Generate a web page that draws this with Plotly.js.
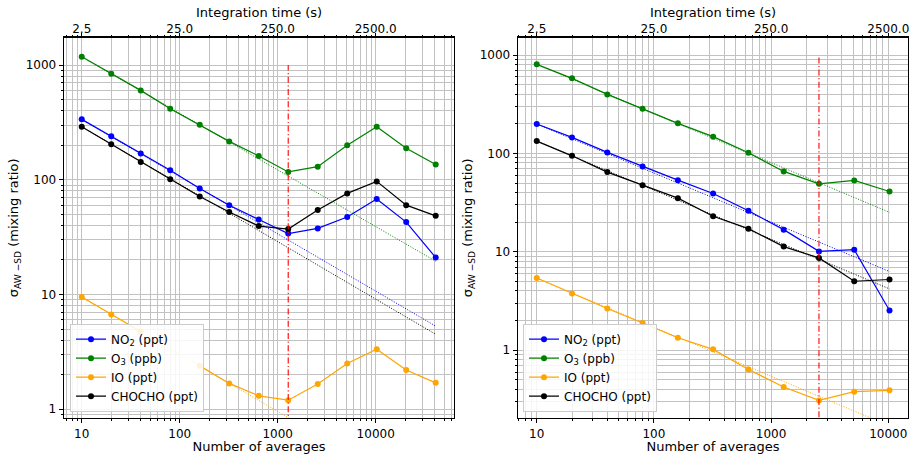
<!DOCTYPE html>
<html>
<head>
<meta charset="utf-8">
<script src="https://cdn.plot.ly/plotly-3.0.1.min.js"></script>
<style>html,body{margin:0;padding:0;background:#fff;}#chart{width:912px;height:454px;}</style>
</head>
<body>
<div id="chart"></div>
<script>
// ---- data ----
const averagesLeft = [10, 20, 40, 80, 160, 320, 640, 1280, 2560, 5120, 10240, 20480, 40960];
const averagesRight = [10, 20, 40, 80, 160, 320, 640, 1280, 2560, 5120, 10240];

const no2Left = [336, 239, 169, 121, 84, 60, 45, 34, 37.7, 47.3, 68, 42.8, 21];
const o3Left = [1181, 839, 601, 416, 302, 216, 161, 117, 130, 200, 290, 188, 136];
const ioLeft = [9.5, 6.7, 4.76, null, 2.39, 1.68, 1.31, 1.2, 1.66, 2.51, 3.34, 2.2, 1.7];
const chochoLeft = [290, 204, 143, 101, 71.6, 52.3, 39.5, 37.2, 54.5, 76.1, 96.8, 60.1, 48.5];

const no2Right = [199, 145.5, 102.4, 73.8, 53.5, 39.2, 26.1, 16.8, 10.1, 10.5, 2.53];
const o3Right = [804, 579, 398, 284, 202, 148, 101.4, 65.6, 49.1, 53.1, 41.0];
const ioRight = [5.42, 3.77, 2.65, 1.89, 1.34, 1.02, 0.638, 0.422, 0.309, 0.379, 0.391];
const chochoRight = [133.4, 94.5, 64.6, 47.6, 35.1, 23.0, 17.2, 11.3, 8.67, 5.02, 5.23];

// dotted white-noise reference lines (end points)
const fitXLeft = [10, 40960];
const fitNo2Left = [336, 5.3];
const fitO3Left = [1181, 19.5];
const fitIoLeft = [9.5, 0.15];
const fitChochoLeft = [290, 4.5];

const fitXRight = [10, 10240];
const fitNo2Right = [199, 6.3];
const fitO3Right = [804, 25.2];
const fitIoRight = [5.42, 0.17];
const fitChochoRight = [133.4, 4.2];

// optimum averaging (red dash-dot)
const cutoffXLeft = [1280, 1280];
const cutoffXRight = [2560, 2560];
const cutoffY = [0.05, 1000];

const seriesNames = ['NO<sub>2</sub> (ppt)', 'O<sub>3</sub> (ppb)', 'IO (ppt)', 'CHOCHO (ppt)'];
const bottomTickVals = [10, 100, 1000, 10000];
const bottomTickText = ['10', '100', '1000', '10000'];
const topTickText = ['2.5', '25.0', '250.0', '2500.0'];
const yTickVals = [1, 10, 100, 1000];
const yTickText = ['1', '10', '100', '1000'];

// ---- styling ----
const colors = ['#0000ff', '#008000', '#ffa500', '#000000'];
const FONT = 'DejaVu Sans, sans-serif';
const GRID = '#c2c2c2';

const traces = [];
function addPanel(xs, ys, fitX, fits, xa, ya, legendId) {
  ys.forEach((y, i) => {
    traces.push({
      x: xs, y: y, xaxis: xa, yaxis: ya, type: 'scatter', mode: 'lines+markers',
      name: seriesNames[i], legend: legendId, connectgaps: false,
      line: {color: colors[i], width: 1.2},
      marker: {color: colors[i], size: 6}
    });
  });
  fits.forEach((y, i) => {
    traces.push({
      x: fitX, y: y, xaxis: xa, yaxis: ya, type: 'scatter', mode: 'lines',
      showlegend: false, hoverinfo: 'skip',
      line: {color: colors[i], width: 1, dash: '1px,1.6px'}
    });
  });
}
addPanel(averagesLeft, [no2Left, o3Left, ioLeft, chochoLeft], fitXLeft,
  [fitNo2Left, fitO3Left, fitIoLeft, fitChochoLeft], 'x', 'y', 'legend');
addPanel(averagesRight, [no2Right, o3Right, ioRight, chochoRight], fitXRight,
  [fitNo2Right, fitO3Right, fitIoRight, fitChochoRight], 'x2', 'y2', 'legend2');

traces.push({x: cutoffXLeft, y: cutoffY, xaxis: 'x3', yaxis: 'y', mode: 'lines', showlegend: false,
  line: {color: '#ff0000', width: 1.1, dash: '6px,2.5px,1.2px,2.5px'}});
traces.push({x: cutoffXRight, y: cutoffY, xaxis: 'x4', yaxis: 'y2', mode: 'lines', showlegend: false,
  line: {color: '#ff0000', width: 1.1, dash: '6px,2.5px,1.2px,2.5px'}});

const yTop = 1 - 37.7 / 454, yBot = 1 - 418 / 454;
const domL = [64 / 912, 454 / 912], domR = [518 / 912, 908 / 912];
const rangeXL = [0.819, 4.799], rangeXR = [0.840, 4.168];

function bottomAxis(domain, range, anchor) {
  return {
    type: 'log', domain: domain, range: range, anchor: anchor, automargin: false,
    tickmode: 'array', tickvals: bottomTickVals, ticktext: bottomTickText,
    ticks: 'outside', ticklen: 4, tickwidth: 1, tickcolor: '#000',
    showline: true, linecolor: '#000', linewidth: 1.4, mirror: true,
    showgrid: true, gridcolor: GRID, gridwidth: 1, zeroline: false,
    tickfont: {family: FONT, size: 12, color: '#000'},
    minor: {dtick: 'D1', ticks: 'outside', ticklen: 2, tickcolor: '#000', showgrid: true, gridcolor: GRID, gridwidth: 1},
    title: {text: 'Number of averages', font: {family: FONT, size: 13, color: '#000'}, standoff: 4}
  };
}
function topAxis(range, overlay, anchor) {
  return {
    type: 'log', overlaying: overlay, side: 'top', anchor: anchor, range: range, automargin: false,
    tickmode: 'array', tickvals: bottomTickVals, ticktext: topTickText,
    ticks: 'outside', ticklen: 4, tickwidth: 1, tickcolor: '#000',
    ticklabelstandoff: -5,
    showgrid: false, zeroline: false, showline: false,
    tickfont: {family: FONT, size: 12, color: '#000'},
    minor: {dtick: 'D1', ticks: 'outside', ticklen: 2, tickcolor: '#000', showgrid: false}
  };
}
function yAxis(range, anchor) {
  return {
    type: 'log', domain: [yBot, yTop], range: range, anchor: anchor, automargin: false,
    tickmode: 'array', tickvals: yTickVals, ticktext: yTickText,
    ticks: 'outside', ticklen: 4, tickwidth: 1, tickcolor: '#000',
    showline: true, linecolor: '#000', linewidth: 1.4, mirror: true,
    showgrid: true, gridcolor: GRID, gridwidth: 1, zeroline: false,
    tickfont: {family: FONT, size: 12, color: '#000'},
    minor: {dtick: 'D1', ticks: 'outside', ticklen: 2, tickcolor: '#000', showgrid: true, gridcolor: GRID, gridwidth: 1},
    title: {text: 'σ<sub>AW −SD</sub> (mixing ratio)', font: {family: FONT, size: 13, color: '#000'}, standoff: 4}
  };
}
function legendBox(x) {
  return {
    x: x, y: 1 - 411.7 / 454, xanchor: 'left', yanchor: 'bottom',
    bgcolor: 'rgba(255,255,255,0.85)', bordercolor: '#cccccc', borderwidth: 1,
    font: {family: FONT, size: 12, color: '#000'}, tracegroupgap: 0, itemwidth: 30
  };
}
function topTitle(domain) {
  return {
    text: 'Integration time (s)', xref: 'paper', yref: 'paper',
    x: (domain[0] + domain[1]) / 2, y: 1 - 12.5 / 454, xanchor: 'center', yanchor: 'middle',
    showarrow: false, font: {family: FONT, size: 13, color: '#000'}
  };
}

const layout = {
  width: 912, height: 454, margin: {l: 0, r: 0, t: 0, b: 0},
  paper_bgcolor: '#fff', plot_bgcolor: '#fff', showlegend: true,
  font: {family: FONT, size: 12, color: '#000'},
  xaxis: bottomAxis(domL, rangeXL, 'y'),
  xaxis2: bottomAxis(domR, rangeXR, 'y2'),
  xaxis3: topAxis(rangeXL, 'x', 'y'),
  xaxis4: topAxis(rangeXR, 'x2', 'y2'),
  yaxis: yAxis([-0.076, 3.238], 'x'),
  yaxis2: yAxis([-0.689, 3.176], 'x2'),
  legend: legendBox(70 / 912),
  legend2: legendBox(523 / 912),
  annotations: [topTitle(domL), topTitle(domR)]
};

Plotly.newPlot('chart', traces, layout, {staticPlot: true, displayModeBar: false});
</script>
</body>
</html>
